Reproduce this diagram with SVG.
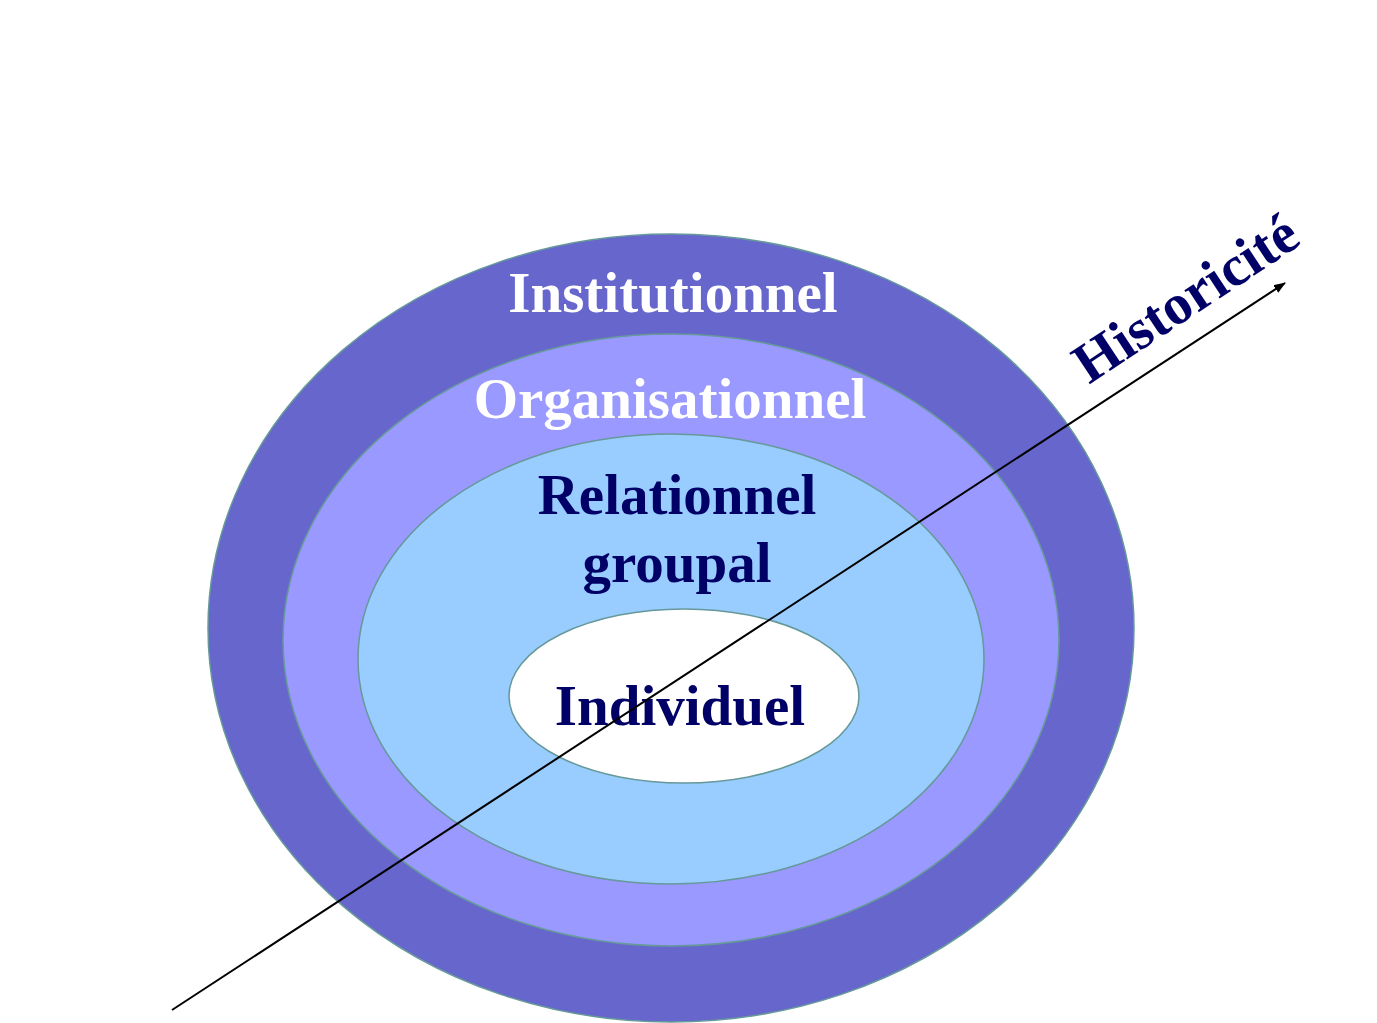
<svg xmlns="http://www.w3.org/2000/svg" width="1377" height="1023" viewBox="0 0 1377 1023">
<style>
.ring{stroke:#669999;stroke-width:1.5}
.lbl{font-family:"Liberation Serif","Times New Roman",serif;font-weight:bold;font-size:57px;text-anchor:middle}
.w{fill:#ffffff}
.d{fill:#000066}
</style>
<defs>
<marker id="ah" markerWidth="12" markerHeight="9" refX="11" refY="4.5" orient="auto" markerUnits="userSpaceOnUse">
<path d="M0,0 L12,4.5 L0,9 z" fill="#000"/>
</marker>
</defs>
<rect width="1377" height="1023" fill="#ffffff"/>
<g id="institutionnel">
<ellipse class="ring" cx="671" cy="628" rx="463" ry="394" fill="#6666CC"/>
<text class="lbl w" x="673" y="312">Institutionnel</text>
</g>
<g id="organisationnel">
<ellipse class="ring" cx="671" cy="640" rx="388" ry="306" fill="#9999FF"/>
<text class="lbl w" x="670" y="418">Organisationnel</text>
</g>
<g id="relationnel">
<ellipse class="ring" cx="671" cy="659" rx="313" ry="225" fill="#99CCFF"/>
<text class="lbl d" x="677" y="514">Relationnel</text>
<text class="lbl d" x="677" y="582">groupal</text>
</g>
<g id="individuel">
<ellipse class="ring" cx="684" cy="696" rx="175" ry="87" fill="#ffffff"/>
<text class="lbl d" x="680" y="725">Individuel</text>
</g>
<g id="connectors">
<line x1="172" y1="1010" x2="1285" y2="283" stroke="#000" stroke-width="2" marker-end="url(#ah)"/>
</g>
<g id="historicite">
<text class="lbl d" transform="translate(1196,314) rotate(-33.5)" x="0" y="0">Historicité</text>
</g>
</svg>
